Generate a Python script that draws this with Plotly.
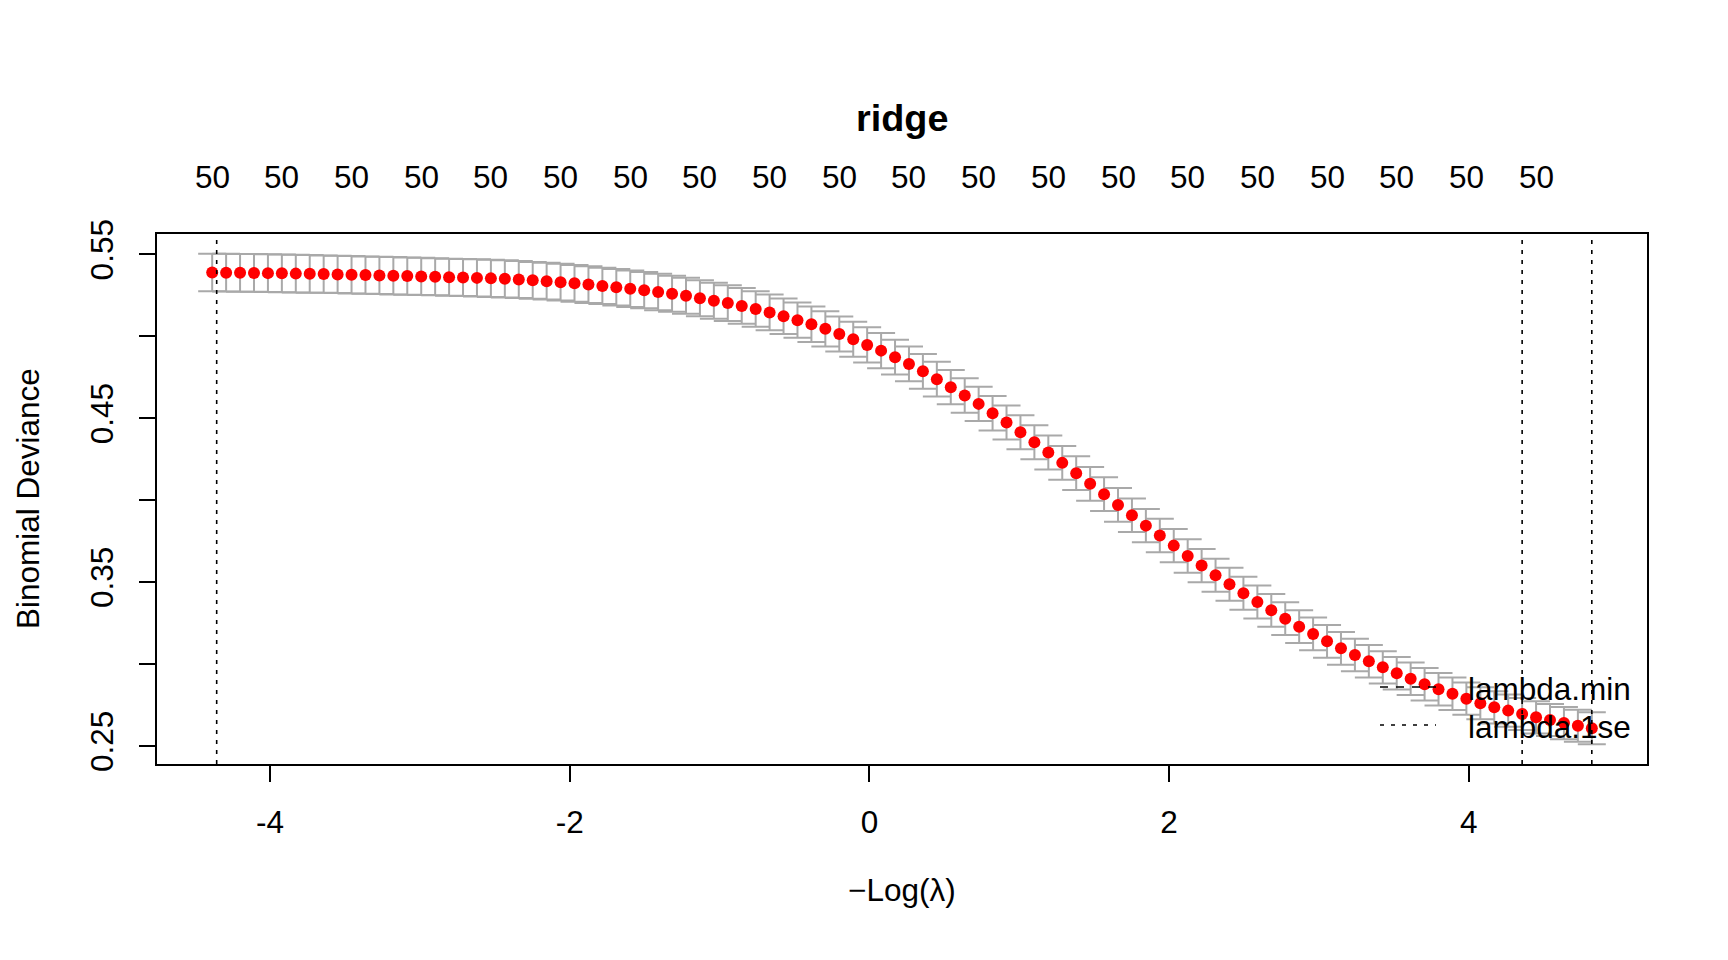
import plotly.graph_objects as go

# -log(lambda) for the 100 lambda values of the cv.glmnet path
neg_log_lambda = [
    -4.386, -4.293, -4.200, -4.107, -4.014, -3.921, -3.828, -3.735, -3.642, -3.549,
    -3.456, -3.363, -3.270, -3.177, -3.084, -2.991, -2.898, -2.805, -2.712, -2.619,
    -2.526, -2.433, -2.340, -2.247, -2.154, -2.061, -1.968, -1.875, -1.782, -1.689,
    -1.596, -1.503, -1.410, -1.317, -1.224, -1.131, -1.038, -0.945, -0.852, -0.759,
    -0.666, -0.573, -0.480, -0.387, -0.294, -0.201, -0.108, -0.015, 0.078, 0.171,
    0.264, 0.357, 0.450, 0.543, 0.636, 0.729, 0.822, 0.915, 1.008, 1.101,
    1.194, 1.287, 1.380, 1.473, 1.566, 1.659, 1.752, 1.845, 1.938, 2.031,
    2.124, 2.217, 2.310, 2.403, 2.496, 2.589, 2.682, 2.775, 2.868, 2.961,
    3.054, 3.147, 3.240, 3.333, 3.426, 3.519, 3.612, 3.705, 3.798, 3.891,
    3.984, 4.077, 4.170, 4.263, 4.356, 4.449, 4.542, 4.635, 4.728, 4.821,
]

# mean cross-validated binomial deviance
cv_mean = [
    0.5390, 0.5389, 0.5388, 0.5387, 0.5386, 0.5385, 0.5383, 0.5382, 0.5380, 0.5378,
    0.5376, 0.5374, 0.5372, 0.5370, 0.5368, 0.5366, 0.5364, 0.5361, 0.5359, 0.5357,
    0.5354, 0.5351, 0.5347, 0.5342, 0.5337, 0.5331, 0.5324, 0.5316, 0.5308, 0.5300,
    0.5291, 0.5282, 0.5271, 0.5260, 0.5248, 0.5233, 0.5218, 0.5203, 0.5186, 0.5167,
    0.5146, 0.5123, 0.5099, 0.5074, 0.5046, 0.5015, 0.4983, 0.4948, 0.4913, 0.4873,
    0.4832, 0.4787, 0.4739, 0.4690, 0.4639, 0.4588, 0.4531, 0.4474, 0.4415, 0.4354,
    0.4291, 0.4228, 0.4165, 0.4100, 0.4037, 0.3971, 0.3908, 0.3845, 0.3785, 0.3723,
    0.3660, 0.3601, 0.3542, 0.3487, 0.3432, 0.3379, 0.3328, 0.3277, 0.3228, 0.3184,
    0.3139, 0.3096, 0.3056, 0.3017, 0.2980, 0.2944, 0.2911, 0.2877, 0.2846, 0.2819,
    0.2789, 0.2761, 0.2736, 0.2716, 0.2695, 0.2675, 0.2659, 0.2640, 0.2624, 0.2608,
]

# standard error of the CV deviance
cv_se = [
    0.0115, 0.0115, 0.0115, 0.0115, 0.0115, 0.0115, 0.0115, 0.0115, 0.0114, 0.0114,
    0.0114, 0.0114, 0.0114, 0.0114, 0.0114, 0.0114, 0.0113, 0.0113, 0.0113, 0.0113,
    0.0113, 0.0113, 0.0113, 0.0112, 0.0112, 0.0112, 0.0112, 0.0112, 0.0111, 0.0111,
    0.0111, 0.0111, 0.0111, 0.0110, 0.0110, 0.0110, 0.0110, 0.0109, 0.0109, 0.0109,
    0.0109, 0.0108, 0.0108, 0.0108, 0.0108, 0.0107, 0.0107, 0.0107, 0.0107, 0.0106,
    0.0106, 0.0106, 0.0106, 0.0105, 0.0105, 0.0105, 0.0105, 0.0104, 0.0104, 0.0104,
    0.0104, 0.0103, 0.0103, 0.0103, 0.0103, 0.0103, 0.0102, 0.0102, 0.0102, 0.0102,
    0.0102, 0.0101, 0.0101, 0.0101, 0.0101, 0.0101, 0.0100, 0.0100, 0.0100, 0.0100,
    0.0100, 0.0100, 0.0099, 0.0099, 0.0099, 0.0099, 0.0099, 0.0099, 0.0099, 0.0099,
    0.0098, 0.0098, 0.0098, 0.0098, 0.0098, 0.0098, 0.0098, 0.0098, 0.0098, 0.0098,
]

# number of nonzero coefficients shown on the top axis (every 5th lambda)
top_label_idx = [0, 5, 10, 15, 20, 25, 30, 35, 40, 45, 50, 55, 60, 65, 70, 75, 80, 85, 90, 95]
top_label_nz = ["50"] * 20

# vertical reference lines (-log lambda)
vlines_x = [-4.356, 4.356, 4.821]

x_ticks = [-4, -2, 0, 2, 4]
y_ticks = [0.25, 0.30, 0.35, 0.40, 0.45, 0.50, 0.55]
y_ticktext = ["0.25", "", "0.35", "", "0.45", "", "0.55"]

legend_labels = ["lambda.min", "lambda.1se"]
legend_dash = ["8px,8px", "4px,7px"]

FONT = "Liberation Sans, Arial, Helvetica, sans-serif"
FS = 31.5

# R style 4% axis extension
up = [m + s for m, s in zip(cv_mean, cv_se)]
lo = [m - s for m, s in zip(cv_mean, cv_se)]
xmin, xmax = min(neg_log_lambda), max(neg_log_lambda)
ymin, ymax = min(lo), max(up)
xpad = 0.04 * (xmax - xmin)
ypad = 0.04 * (ymax - ymin)
xrange = [xmin - xpad, xmax + xpad]
yrange = [ymin - ypad, ymax + ypad]

fig = go.Figure()
fig.add_trace(go.Scatter(
    x=neg_log_lambda, y=cv_mean, mode="markers",
    marker=dict(color="red", size=12, line=dict(width=0)),
    error_y=dict(type="data", array=cv_se, symmetric=True,
                 color="#A9A9A9", thickness=2, width=14),
    showlegend=False, hoverinfo="x+y",
))

W, H = 1728, 960
OFF = 8  # page body margin
# target page-pixel box: left 157, right 1647, top 234, bottom 764
L, T = 157 - OFF, 234 - OFF
R, B = W - (1647 - OFF), H - (764 - OFF)
pw, ph = W - L - R, H - T - B

def px_to_paper_x(px):
    return (px - OFF - L) / pw

def px_to_paper_y(py):
    return (T + ph - (py - OFF)) / ph

shapes = []
for vx in vlines_x:
    shapes.append(dict(type="line", xref="x", yref="paper", x0=vx, x1=vx, y0=0, y1=1,
                       line=dict(color="black", width=1.6, dash="4px,6px")))

annotations = []
legend_rows_y = [688, 726]
for lab, dash, ry in zip(legend_labels, legend_dash, legend_rows_y):
    shapes.append(dict(type="line", xref="paper", yref="paper",
                       x0=px_to_paper_x(1380), x1=px_to_paper_x(1436),
                       y0=px_to_paper_y(ry - 1), y1=px_to_paper_y(ry - 1),
                       line=dict(color="black", width=1.6, dash=dash)))
    annotations.append(dict(xref="paper", yref="paper", x=px_to_paper_x(1466), y=px_to_paper_y(ry + 1),
                            text=lab, showarrow=False, xanchor="left", yanchor="middle",
                            font=dict(family=FONT, size=FS, color="black")))

for idx, lab in zip(top_label_idx, top_label_nz):
    annotations.append(dict(xref="x", yref="paper", x=neg_log_lambda[idx], y=px_to_paper_y(177),
                            text=lab, showarrow=False, xanchor="center", yanchor="middle",
                            font=dict(family=FONT, size=FS, color="black")))

annotations.append(dict(xref="paper", yref="paper", x=px_to_paper_x(28), y=0.5,
                        text="Binomial Deviance", textangle=-90, showarrow=False,
                        xanchor="center", yanchor="middle", borderpad=0,
                        font=dict(family=FONT, size=FS, color="black")))
annotations.append(dict(xref="paper", yref="paper", x=0.5, y=px_to_paper_y(890),
                        text="\u2212Log(\u03bb)", showarrow=False,
                        xanchor="center", yanchor="middle",
                        font=dict(family=FONT, size=FS, color="black")))
annotations.append(dict(xref="paper", yref="paper", x=0.5, y=px_to_paper_y(118),
                        text="<b>ridge</b>", showarrow=False,
                        xanchor="center", yanchor="middle",
                        font=dict(family=FONT, size=37.8, color="black")))

fig.update_layout(
    width=W, height=H,
    margin=dict(l=L, r=R, t=T, b=B, pad=0),
    plot_bgcolor="white", paper_bgcolor="white",
    font=dict(family=FONT, size=FS, color="black"),
    shapes=shapes, annotations=annotations,
    xaxis=dict(range=xrange, tickvals=x_ticks, ticktext=[str(v) for v in x_ticks],
               showgrid=False, zeroline=False, showline=True, mirror=True,
               linecolor="black", linewidth=1.6, ticks="outside", ticklen=16,
               tickwidth=1.6, tickcolor="black", ticklabelstandoff=13,
               tickfont=dict(family=FONT, size=FS, color="black")),
    yaxis=dict(range=yrange, tickvals=y_ticks, ticktext=y_ticktext,
               showgrid=False, zeroline=False, showline=True, mirror=True,
               linecolor="black", linewidth=1.6, ticks="outside", ticklen=16,
               tickwidth=1.6, tickcolor="black", tickangle=-90, ticklabelstandoff=14,
               tickfont=dict(family=FONT, size=FS, color="black")),
    showlegend=False,
)

fig.write_html("out.html", config={"displayModeBar": False})
